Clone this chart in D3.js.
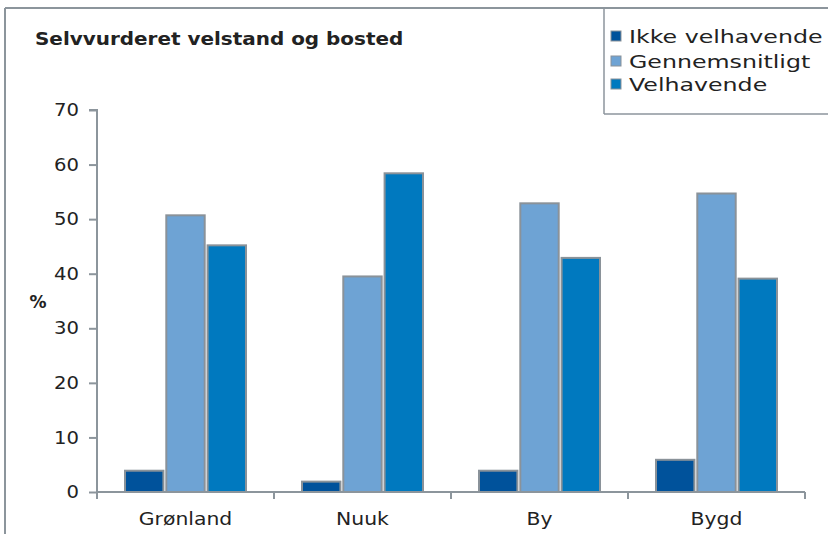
<!DOCTYPE html>
<html><head><meta charset="utf-8">
<script src="https://cdn.jsdelivr.net/npm/d3@7"></script>
<style>body{margin:0;background:#fff}svg{display:block}text{font-family:"DejaVu Sans",Verdana,sans-serif;fill:#222}</style>
</head><body>
<script>
const categories = ["Grønland", "Nuuk", "By", "Bygd"];
const seriesNames = ["Ikke velhavende", "Gennemsnitligt", "Velhavende"];
const ikkeVelhavende = [3.9, 1.9, 3.9, 5.9];
const gennemsnitligt = [50.7, 39.5, 52.9, 54.7];
const velhavende = [45.2, 58.4, 42.9, 39.1];
const yTicks = [0, 10, 20, 30, 40, 50, 60, 70];
const colors = ["#00529b", "#6ea3d4", "#0079bf"];
const title = "Selvvurderet velstand og bosted";
const yLabel = "%";

const series = [ikkeVelhavende, gennemsnitligt, velhavende];
const W = 828, H = 534;
const svg = d3.select("body").append("svg").attr("width", W).attr("height", H);
const grey = "#8c959c";
const FF = "DejaVu Sans, Verdana, sans-serif";

function stretch(sel, f) {
  sel.each(function () {
    const L = this.getComputedTextLength();
    d3.select(this).attr("textLength", L * f).attr("lengthAdjust", "spacingAndGlyphs");
  });
}

// outer frame lines
svg.append("line").attr("x1", 5).attr("x2", W).attr("y1", 8).attr("y2", 8).attr("stroke", grey).attr("stroke-width", 2);
svg.append("line").attr("x1", 5).attr("x2", 5).attr("y1", 8).attr("y2", H).attr("stroke", grey).attr("stroke-width", 2);

// legend box
svg.append("line").attr("x1", 604).attr("x2", 604).attr("y1", 8).attr("y2", 114).attr("stroke", grey).attr("stroke-width", 1.5);
svg.append("line").attr("x1", 604).attr("x2", W).attr("y1", 114).attr("y2", 114).attr("stroke", grey).attr("stroke-width", 1.5);

const t = svg.append("text").attr("x", 35).attr("y", 45).attr("font-weight", "bold").attr("font-size", 17.5).text(title);
stretch(t, 1.14);

const x0 = d3.scaleBand().domain(categories).range([97, 805]).paddingInner(0).paddingOuter(0);
const x1 = d3.scaleBand().domain(d3.range(series.length)).range([0, 121]).paddingInner(0.07);
const y = d3.scaleLinear().domain([0, 70]).range([492, 110]);

// y axis
const yAxis = svg.append("g").attr("transform", "translate(97,0)")
  .call(d3.axisLeft(y).tickValues(yTicks).tickSize(8).tickPadding(10).tickFormat(d3.format("d")));
yAxis.select(".domain").attr("stroke", grey).attr("stroke-width", 2).attr("d", "M-8,110H0V492");
yAxis.selectAll(".tick line").attr("stroke", grey).attr("stroke-width", 2);
yAxis.selectAll(".tick text").attr("font-size", 17.5).attr("fill", "#222").attr("font-family", FF);
stretch(yAxis.selectAll(".tick text"), 1.12);

svg.append("text").attr("x", 38).attr("y", 308).attr("text-anchor", "middle").attr("font-weight", "bold").attr("font-size", 17).text(yLabel);

// bars
categories.forEach((c, i) => {
  const gx = x0(c) + (x0.bandwidth() - 121) / 2;
  series.forEach((s, k) => {
    svg.append("rect")
      .attr("x", gx + x1(k)).attr("y", y(s[i]))
      .attr("width", x1.bandwidth()).attr("height", y(0) - y(s[i]))
      .attr("fill", colors[k]).attr("stroke", "#8a9299").attr("stroke-width", 2);
  });
});

// x axis
const xAxis = svg.append("g").attr("transform", "translate(0,492)")
  .call(d3.axisBottom(x0).tickSize(0).tickPadding(20));
xAxis.select(".domain").attr("stroke", grey).attr("stroke-width", 2).attr("d", "M97,0H805");
xAxis.selectAll(".tick text").attr("font-size", 18).attr("fill", "#222").attr("font-family", FF);
stretch(xAxis.selectAll(".tick text"), 1.13);
const boundaries = categories.map(c => x0(c)).concat([x0(categories[categories.length - 1]) + x0.bandwidth()]);
svg.append("g").selectAll("line").data(boundaries).join("line")
  .attr("x1", d => d).attr("x2", d => d).attr("y1", 492).attr("y2", 499)
  .attr("stroke", grey).attr("stroke-width", 2);

// legend
const lg = svg.append("g");
seriesNames.forEach((n, k) => {
  const yy = [36, 61, 84][k];
  lg.append("rect").attr("x", 611).attr("y", yy - 5).attr("width", 10).attr("height", 10)
    .attr("fill", colors[k]).attr("stroke", "#8a9299").attr("stroke-width", 1);
  const tx = lg.append("text").attr("x", 629).attr("y", yy + 7).attr("font-size", 18.5).text(n);
  stretch(tx, 1.28);
});
</script>
</body></html>
